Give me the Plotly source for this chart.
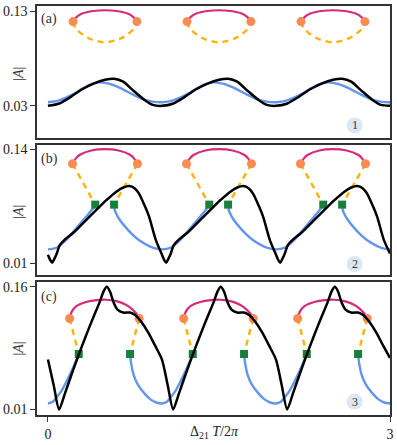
import plotly.graph_objects as go

# ---------------- data ----------------
# Panel (a)
A_BLACK_X = [0.0, 0.1, 0.2, 0.3, 0.4, 0.5, 0.58, 0.66, 0.75, 0.85, 0.92,
             1.0, 1.1, 1.2, 1.3, 1.4, 1.5, 1.58, 1.66, 1.75, 1.85, 1.92,
             2.0, 2.1, 2.2, 2.3, 2.4, 2.5, 2.58, 2.66, 2.75, 2.85, 2.92, 3.0]
A_BLACK_Y = [0.030, 0.0325, 0.0395, 0.0475, 0.0535, 0.0575, 0.0586, 0.0555, 0.046, 0.036, 0.031,
             0.030, 0.0325, 0.0395, 0.0475, 0.0535, 0.0575, 0.0586, 0.0555, 0.046, 0.036, 0.031,
             0.030, 0.0325, 0.0395, 0.0475, 0.0535, 0.0575, 0.0586, 0.0555, 0.046, 0.036, 0.031, 0.030]
A_BLUE_X = [0.0, 0.1, 0.2, 0.3, 0.38, 0.45, 0.55, 0.65, 0.75, 0.85, 0.93,
            1.0, 1.1, 1.2, 1.3, 1.38, 1.45, 1.55, 1.65, 1.75, 1.85, 1.93,
            2.0, 2.1, 2.2, 2.3, 2.38, 2.45, 2.55, 2.65, 2.75, 2.85, 2.93, 3.0]
A_BLUE_Y = [0.0338, 0.0358, 0.041, 0.048, 0.053, 0.0548, 0.053, 0.048, 0.0415, 0.0362, 0.0342,
            0.0338, 0.0358, 0.041, 0.048, 0.053, 0.0548, 0.053, 0.048, 0.0415, 0.0362, 0.0342,
            0.0338, 0.0358, 0.041, 0.048, 0.053, 0.0548, 0.053, 0.048, 0.0415, 0.0362, 0.0342, 0.0338]
A_PINK_X = [0.22, 0.25, 0.30, 0.40, 0.5, 0.6, 0.70, 0.75, 0.78, None,
            1.22, 1.25, 1.30, 1.40, 1.5, 1.6, 1.70, 1.75, 1.78, None,
            2.22, 2.25, 2.30, 2.40, 2.5, 2.6, 2.70, 2.75, 2.78]
A_PINK_Y = [0.119, 0.1238, 0.1275, 0.1302, 0.131, 0.1302, 0.1275, 0.1238, 0.119, None,
            0.119, 0.1238, 0.1275, 0.1302, 0.131, 0.1302, 0.1275, 0.1238, 0.119, None,
            0.119, 0.1238, 0.1275, 0.1302, 0.131, 0.1302, 0.1275, 0.1238, 0.119]
A_DASH_X = [0.22, 0.24, 0.32, 0.40, 0.5, 0.6, 0.68, 0.76, 0.78, None,
            1.22, 1.24, 1.32, 1.40, 1.5, 1.6, 1.68, 1.76, 1.78, None,
            2.22, 2.24, 2.32, 2.40, 2.5, 2.6, 2.68, 2.76, 2.78]
A_DASH_Y = [0.119, 0.1125, 0.104, 0.0995, 0.0972, 0.0995, 0.104, 0.1125, 0.119, None,
            0.119, 0.1125, 0.104, 0.0995, 0.0972, 0.0995, 0.104, 0.1125, 0.119, None,
            0.119, 0.1125, 0.104, 0.0995, 0.0972, 0.0995, 0.104, 0.1125, 0.119]
A_DOT_X = [0.22, 0.78, 1.22, 1.78, 2.22, 2.78]
A_DOT_Y = [0.119, 0.119, 0.119, 0.119, 0.119, 0.119]

# Panel (b)
B_BLACK_X = [0.0, 0.02, 0.037, 0.055, 0.075, 0.104, 0.148, 0.22, 0.28, 0.394, 0.51, 0.6, 0.66, 0.713, 0.76, 0.8, 0.85, 0.887, 0.945,
             1.0, 1.02, 1.037, 1.055, 1.075, 1.104, 1.148, 1.22, 1.28, 1.394, 1.51, 1.6, 1.66, 1.713, 1.76, 1.8, 1.85, 1.887, 1.945,
             2.0, 2.02, 2.037, 2.055, 2.075, 2.104, 2.148, 2.22, 2.28, 2.394, 2.51, 2.6, 2.66, 2.713, 2.76, 2.8, 2.85, 2.887, 2.945,
             3.0]
B_BLACK_Y = [0.0195, 0.0135, 0.0105, 0.0145, 0.020, 0.0305, 0.0368, 0.0443, 0.0518, 0.0666, 0.0815, 0.0915, 0.0962, 0.098, 0.0955, 0.089, 0.075, 0.063, 0.0368,
             0.0195, 0.0135, 0.0105, 0.0145, 0.020, 0.0305, 0.0368, 0.0443, 0.0518, 0.0666, 0.0815, 0.0915, 0.0962, 0.098, 0.0955, 0.089, 0.075, 0.063, 0.0368,
             0.0195, 0.0135, 0.0105, 0.0145, 0.020, 0.0305, 0.0368, 0.0443, 0.0518, 0.0666, 0.0815, 0.0915, 0.0962, 0.098, 0.0955, 0.089, 0.075, 0.063, 0.0368,
             0.021]
B_BLUE_X = [0.0, 0.075, 0.163, 0.25, 0.336, 0.394, 0.415, None,
            0.58, 0.585, 0.6, 0.626, 0.68, 0.742, 0.8, 0.887, 0.95, 1.0, 1.075, 1.163, 1.25, 1.336, 1.394, 1.415, None,
            1.58, 1.585, 1.6, 1.626, 1.68, 1.742, 1.8, 1.887, 1.95, 2.0, 2.075, 2.163, 2.25, 2.336, 2.394, 2.415, None,
            2.58, 2.585, 2.6, 2.626, 2.68, 2.742, 2.8, 2.887, 2.95, 3.0]
B_BLUE_Y = [0.0256, 0.0275, 0.0368, 0.0499, 0.063, 0.0722, 0.0767, None,
            0.0767, 0.071, 0.066, 0.060, 0.051, 0.0424, 0.036, 0.0294, 0.0265, 0.0256, 0.0275, 0.0368, 0.0499, 0.063, 0.0722, 0.0767, None,
            0.0767, 0.071, 0.066, 0.060, 0.051, 0.0424, 0.036, 0.0294, 0.0265, 0.0256, 0.0275, 0.0368, 0.0499, 0.063, 0.0722, 0.0767, None,
            0.0767, 0.071, 0.066, 0.060, 0.051, 0.0424, 0.036, 0.0294, 0.0265, 0.0256]
B_PINK_X = [0.215, 0.245, 0.28, 0.38, 0.5, 0.62, 0.72, 0.755, 0.785, None,
            1.215, 1.245, 1.28, 1.38, 1.5, 1.62, 1.72, 1.755, 1.785, None,
            2.215, 2.245, 2.28, 2.38, 2.5, 2.62, 2.72, 2.755, 2.785]
B_PINK_Y = [0.1233, 0.1295, 0.1336, 0.1385, 0.140, 0.1385, 0.1336, 0.1295, 0.1233, None,
            0.1233, 0.1295, 0.1336, 0.1385, 0.140, 0.1385, 0.1336, 0.1295, 0.1233, None,
            0.1233, 0.1295, 0.1336, 0.1385, 0.140, 0.1385, 0.1336, 0.1295, 0.1233]
B_DASH_X = [0.215, 0.415, None, 0.785, 0.58, None,
            1.215, 1.415, None, 1.785, 1.58, None,
            2.215, 2.415, None, 2.785, 2.58]
B_DASH_Y = [0.1233, 0.0767, None, 0.1233, 0.0767, None,
            0.1233, 0.0767, None, 0.1233, 0.0767, None,
            0.1233, 0.0767, None, 0.1233, 0.0767]
B_DOT_X = [0.215, 0.785, 1.215, 1.785, 2.215, 2.785]
B_DOT_Y = [0.1233, 0.1233, 0.1233, 0.1233, 0.1233, 0.1233]
B_SQ_X = [0.415, 0.58, 1.415, 1.58, 2.415, 2.58]
B_SQ_Y = [0.0767, 0.0767, 0.0767, 0.0767, 0.0767, 0.0767]

# Panel (c)
C_BLACK_X = [0.0, 0.05, 0.098, 0.15, 0.2, 0.27, 0.33, 0.39, 0.45, 0.49, 0.516, 0.545, 0.575, 0.61, 0.66, 0.72, 0.77, 0.82, 0.88, 0.94,
             1.0, 1.05, 1.098, 1.15, 1.2, 1.27, 1.33, 1.39, 1.45, 1.49, 1.516, 1.545, 1.575, 1.61, 1.66, 1.72, 1.77, 1.82, 1.88, 1.94,
             2.0, 2.05, 2.098, 2.15, 2.2, 2.27, 2.33, 2.39, 2.45, 2.49, 2.516, 2.545, 2.575, 2.61, 2.66, 2.72, 2.77, 2.82, 2.88, 2.94,
             3.0]
C_BLACK_Y = [0.071, 0.040, 0.010, 0.030, 0.050, 0.077, 0.099, 0.120, 0.140, 0.155, 0.160, 0.154, 0.141, 0.132, 0.1285, 0.1285, 0.125, 0.117, 0.104, 0.088,
             0.071, 0.040, 0.010, 0.030, 0.050, 0.077, 0.099, 0.120, 0.140, 0.155, 0.160, 0.154, 0.141, 0.132, 0.1285, 0.1285, 0.125, 0.117, 0.104, 0.088,
             0.071, 0.040, 0.010, 0.030, 0.050, 0.077, 0.099, 0.120, 0.140, 0.155, 0.160, 0.154, 0.141, 0.132, 0.1285, 0.1285, 0.125, 0.117, 0.104, 0.088,
             0.073]
C_BLUE_X = [0.0, 0.04, 0.075, 0.12, 0.162, 0.22, 0.27, None,
            0.72, 0.73, 0.75, 0.786, 0.85, 0.902, 0.95, 1.0, 1.04, 1.075, 1.12, 1.162, 1.22, 1.27, None,
            1.72, 1.73, 1.75, 1.786, 1.85, 1.902, 1.95, 2.0, 2.04, 2.075, 2.12, 2.162, 2.22, 2.27, None,
            2.72, 2.73, 2.75, 2.786, 2.85, 2.902, 2.95, 3.0]
C_BLUE_Y = [0.0173, 0.019, 0.0245, 0.033, 0.044, 0.061, 0.078, None,
            0.078, 0.066, 0.053, 0.041, 0.029, 0.022, 0.0185, 0.0173, 0.019, 0.0245, 0.033, 0.044, 0.061, 0.078, None,
            0.078, 0.066, 0.053, 0.041, 0.029, 0.022, 0.0185, 0.0173, 0.019, 0.0245, 0.033, 0.044, 0.061, 0.078, None,
            0.078, 0.066, 0.053, 0.041, 0.029, 0.022, 0.0185, 0.0173]
C_PINK_X = [0.19, 0.21, 0.25, 0.336, 0.43, 0.51, 0.60, 0.684, 0.74, 0.771, 0.80, None,
            1.19, 1.21, 1.25, 1.336, 1.43, 1.51, 1.60, 1.684, 1.74, 1.771, 1.80, None,
            2.19, 2.21, 2.25, 2.336, 2.43, 2.51, 2.60, 2.684, 2.74, 2.771, 2.80]
C_PINK_Y = [0.1213, 0.130, 0.1365, 0.1415, 0.1438, 0.1442, 0.1425, 0.138, 0.1325, 0.128, 0.1213, None,
            0.1213, 0.130, 0.1365, 0.1415, 0.1438, 0.1442, 0.1425, 0.138, 0.1325, 0.128, 0.1213, None,
            0.1213, 0.130, 0.1365, 0.1415, 0.1438, 0.1442, 0.1425, 0.138, 0.1325, 0.128, 0.1213]
C_DASH_X = [0.19, 0.27, None, 0.80, 0.72, None,
            1.19, 1.27, None, 1.80, 1.72, None,
            2.19, 2.27, None, 2.80, 2.72]
C_DASH_Y = [0.1213, 0.0778, None, 0.1213, 0.0778, None,
            0.1213, 0.0778, None, 0.1213, 0.0778, None,
            0.1213, 0.0778, None, 0.1213, 0.0778]
C_DOT_X = [0.19, 0.80, 1.19, 1.80, 2.19, 2.80]
C_DOT_Y = [0.1213, 0.1213, 0.1213, 0.1213, 0.1213, 0.1213]
C_SQ_X = [0.27, 0.72, 1.27, 1.72, 2.27, 2.72]
C_SQ_Y = [0.0778, 0.0778, 0.0778, 0.0778, 0.0778, 0.0778]

PANEL_LABELS = ["(a)", "(b)", "(c)"]
BADGES = ["1", "2", "3"]
Y_TICKS = [[0.03, 0.13], [0.01, 0.14], [0.01, 0.16]]
Y_TICKTEXT = [["0.03", "0.13"], ["0.01", "0.14"], ["0.01", "0.16"]]
X_TICKS = [0, 3]
X_TICKTEXT = ["0", "3"]

# ---------------- style ----------------
BLACK = "#000000"
BLUE = "#6495ed"
PINK = "#d62a7b"
ORANGE_DASH = "#ffb300"
ORANGE_DOT = "#fb8b54"
GREEN = "#1a7f3c"
FRAME = "#333333"
FONT = "Liberation Serif, DejaVu Serif, serif"

fig = go.Figure()

panels = [
    dict(blue=(A_BLUE_X, A_BLUE_Y), black=(A_BLACK_X, A_BLACK_Y), pink=(A_PINK_X, A_PINK_Y),
         dash=(A_DASH_X, A_DASH_Y), dot=(A_DOT_X, A_DOT_Y), sq=None, dash_shape="spline"),
    dict(blue=(B_BLUE_X, B_BLUE_Y), black=(B_BLACK_X, B_BLACK_Y), pink=(B_PINK_X, B_PINK_Y),
         dash=(B_DASH_X, B_DASH_Y), dot=(B_DOT_X, B_DOT_Y), sq=(B_SQ_X, B_SQ_Y), dash_shape="linear"),
    dict(blue=(C_BLUE_X, C_BLUE_Y), black=(C_BLACK_X, C_BLACK_Y), pink=(C_PINK_X, C_PINK_Y),
         dash=(C_DASH_X, C_DASH_Y), dot=(C_DOT_X, C_DOT_Y), sq=(C_SQ_X, C_SQ_Y), dash_shape="linear"),
]

for i, p in enumerate(panels):
    xa = "x" if i == 0 else f"x{i+1}"
    ya = "y" if i == 0 else f"y{i+1}"
    common = dict(xaxis=xa, yaxis=ya, showlegend=False, hoverinfo="skip")
    fig.add_trace(go.Scatter(x=p["blue"][0], y=p["blue"][1], mode="lines",
                             line=dict(color=BLUE, width=2.4, shape="spline", smoothing=0.8), **common))
    fig.add_trace(go.Scatter(x=p["pink"][0], y=p["pink"][1], mode="lines",
                             line=dict(color=PINK, width=2.2, shape="spline", smoothing=1.0), **common))
    fig.add_trace(go.Scatter(x=p["dash"][0], y=p["dash"][1], mode="lines",
                             line=dict(color=ORANGE_DASH, width=2.4, dash="6px,5px",
                                       shape=p["dash_shape"]), **common))
    fig.add_trace(go.Scatter(x=p["dot"][0], y=p["dot"][1], mode="markers",
                             marker=dict(color=ORANGE_DOT, size=9, symbol="circle"), **common))
    if p["sq"] is not None:
        fig.add_trace(go.Scatter(x=p["sq"][0], y=p["sq"][1], mode="markers",
                                 marker=dict(color=GREEN, size=8, symbol="square"), **common))
    fig.add_trace(go.Scatter(x=p["black"][0], y=p["black"][1], mode="lines",
                             line=dict(color=BLACK, width=2.5, shape="spline", smoothing=0.7), **common))

# ---------------- layout ----------------
W, H = 397, 445
ML, MR, MT, MB = 37, 4, 3, 24
domains = [[0.677, 1.0], [0.3421, 0.6603], [0.0, 0.3254]]
yranges = [[-0.0041, 0.1355], [-0.0037, 0.1448], [0.0032, 0.166]]
xrange_ = [-0.096, 3.0]

axis_common = dict(showline=True, mirror=True, linecolor=FRAME, linewidth=1.5,
                   showgrid=False, zeroline=False)
layout = dict(width=W, height=H, margin=dict(l=ML, r=MR, t=MT, b=MB),
              paper_bgcolor="white", plot_bgcolor="white",
              font=dict(family=FONT, size=14, color="#222222"))
for i in range(3):
    xk = "xaxis" if i == 0 else f"xaxis{i+1}"
    yk = "yaxis" if i == 0 else f"yaxis{i+1}"
    ya = "y" if i == 0 else f"y{i+1}"
    xa = "x" if i == 0 else f"x{i+1}"
    xd = dict(domain=[0, 1], anchor=ya, range=xrange_, **axis_common)
    if i == 2:
        xd.update(ticks="outside", ticklen=5, tickwidth=1.2, tickcolor=FRAME,
                  tickvals=X_TICKS, ticktext=X_TICKTEXT, showticklabels=True)
    else:
        xd.update(ticks="", showticklabels=False)
    layout[xk] = xd
    layout[yk] = dict(domain=domains[i], anchor=xa, range=yranges[i],
                      ticks="outside", ticklen=5, tickwidth=1.2, tickcolor=FRAME,
                      tickvals=Y_TICKS[i], ticktext=Y_TICKTEXT[i], **axis_common)

fig.update_layout(**layout)

# panel labels, y titles, badges
label_y = [0.967, 0.627, 0.288]
ytitle_y = [0.835, 0.4976, 0.163]
badge_y = [0.0093, 0.0089, 0.0196]
annotations = []
shapes = []
for i in range(3):
    xa = "x" if i == 0 else f"x{i+1}"
    ya = "y" if i == 0 else f"y{i+1}"
    annotations.append(dict(text=PANEL_LABELS[i], xref="paper", yref="paper",
                            x=0.006, y=label_y[i], xanchor="left", yanchor="middle",
                            showarrow=False, font=dict(family=FONT, size=14, color="#333333")))
    annotations.append(dict(text="|<i>A</i>|", xref="paper", yref="paper",
                            x=-0.053, y=ytitle_y[i], xanchor="center", yanchor="middle",
                            textangle=-90, showarrow=False,
                            font=dict(family=FONT, size=14, color="#333333")))
    shapes.append(dict(type="circle", xref=xa, yref=ya, xsizemode="pixel", ysizemode="pixel",
                       xanchor=2.69, yanchor=badge_y[i], x0=-8, x1=8, y0=-8, y1=8,
                       fillcolor="#dce7f1", line=dict(width=0), layer="below"))
    annotations.append(dict(text=BADGES[i], xref=xa, yref=ya, x=2.69, y=badge_y[i],
                            xanchor="center", yanchor="middle", showarrow=False,
                            font=dict(family=FONT, size=12, color="#333333")))

annotations.append(dict(text="Δ<sub>21</sub> <i>T</i>/2<i>π</i>", xref="paper", yref="paper",
                        x=0.503, y=-0.044, xanchor="center", yanchor="middle", showarrow=False,
                        font=dict(family=FONT, size=14, color="#222222")))
fig.update_layout(annotations=annotations, shapes=shapes)

fig.write_html("out.html", config={"displayModeBar": False},
               post_script="document.body.style.margin='0';")
